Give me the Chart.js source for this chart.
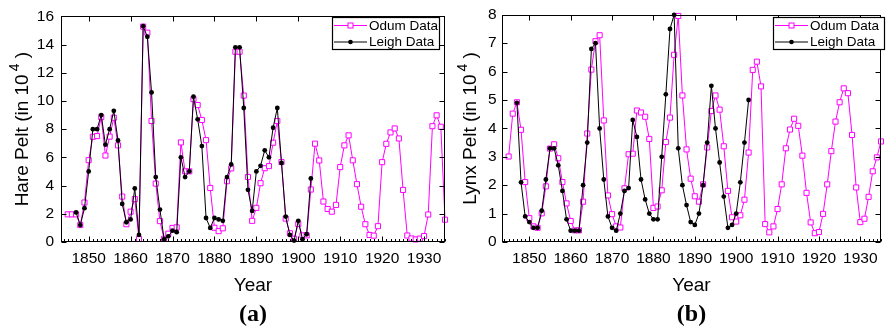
<!DOCTYPE html>
<html>
<head>
<meta charset="utf-8">
<script src="https://cdn.jsdelivr.net/npm/chart.js@4.4.0/dist/chart.umd.min.js"></script>
<style>
  html, body { margin: 0; padding: 0; background: #fff; }
  #wrap { position: relative; width: 886px; height: 332px; }
  canvas { position: absolute; top: 0; }
</style>
</head>
<body>
<div id="wrap">
  <canvas id="hareChart" style="left:0;width:450px;height:332px"></canvas>
  <canvas id="lynxChart" style="left:450px;width:436px;height:332px"></canvas>
</div>
<script>
// Odum data, 1845-1935 (in 10^4 pelts)
const odumYears = [1845, 1846, 1847, 1848, 1849, 1850, 1851, 1852, 1853, 1854,
  1855, 1856, 1857, 1858, 1859, 1860, 1861, 1862, 1863, 1864,
  1865, 1866, 1867, 1868, 1869, 1870, 1871, 1872, 1873, 1874,
  1875, 1876, 1877, 1878, 1879, 1880, 1881, 1882, 1883, 1884,
  1885, 1886, 1887, 1888, 1889, 1890, 1891, 1892, 1893, 1894,
  1895, 1896, 1897, 1898, 1899, 1900, 1901, 1902, 1903, 1904,
  1905, 1906, 1907, 1908, 1909, 1910, 1911, 1912, 1913, 1914,
  1915, 1916, 1917, 1918, 1919, 1920, 1921, 1922, 1923, 1924,
  1925, 1926, 1927, 1928, 1929, 1930, 1931, 1932, 1933, 1934, 1935];
const odumHare = [1.96, 1.96, 1.96, 1.20, 2.80, 5.80, 7.46, 7.51, 8.85, 6.13,
  7.47, 8.81, 6.85, 3.22, 1.26, 2.15, 3.04, 0.22, 15.27, 14.84,
  8.58, 4.14, 1.48, 0.23, 0.59, 1.00, 1.04, 7.06, 5.01, 5.01,
  10.13, 9.71, 8.65, 7.22, 3.83, 1.01, 0.77, 0.97, 4.31, 5.22,
  13.49, 13.49, 10.38, 4.61, 1.50, 2.42, 4.17, 5.23, 5.38, 7.04,
  8.58, 5.67, 1.66, 0.62, 0.23, 1.28, 0.47, 0.47, 3.72, 6.97,
  5.78, 2.87, 2.34, 2.15, 2.63, 5.31, 6.85, 7.56, 5.79, 4.10,
  2.50, 1.26, 0.50, 0.45, 1.12, 5.66, 6.96, 7.77, 8.05, 7.34,
  3.69, 0.46, 0.25, 0.18, 0.24, 0.42, 1.95, 8.21, 8.98, 8.17, 1.58];
const odumLynx = [3.01, 4.52, 4.92, 3.95, 2.11, 0.84, 0.55, 0.50, 1.01, 1.96,
  3.29, 3.44, 2.95, 2.11, 1.36, 0.74, 0.41, 0.41, 1.42, 3.82,
  6.07, 7.07, 7.28, 4.28, 1.64, 0.98, 0.55, 0.51, 1.89, 3.09,
  3.11, 4.63, 4.56, 4.41, 3.63, 1.20, 1.25, 1.82, 3.52, 4.38,
  6.59, 7.96, 5.16, 3.26, 2.23, 1.61, 1.42, 2.03, 3.33, 4.61,
  5.16, 4.66, 3.37, 1.80, 0.87, 0.72, 0.94, 1.49, 3.15, 6.06,
  6.35, 5.48, 0.63, 0.34, 0.55, 1.16, 2.03, 3.30, 3.96, 4.34,
  4.09, 3.04, 1.73, 0.69, 0.31, 0.35, 0.99, 2.03, 3.20, 4.24,
  4.92, 5.41, 5.24, 3.77, 1.92, 0.70, 0.82, 1.59, 2.49, 2.98, 3.54];

// Leigh data, 1847-1903
const leighYears = [1847, 1848, 1849, 1850, 1851, 1852, 1853, 1854, 1855, 1856,
  1857, 1858, 1859, 1860, 1861, 1862, 1863, 1864, 1865, 1866,
  1867, 1868, 1869, 1870, 1871, 1872, 1873, 1874, 1875, 1876,
  1877, 1878, 1879, 1880, 1881, 1882, 1883, 1884, 1885, 1886,
  1887, 1888, 1889, 1890, 1891, 1892, 1893, 1894, 1895, 1896,
  1897, 1898, 1899, 1900, 1901, 1902, 1903];
const leighHare = [2.1, 1.2, 2.4, 5.0, 8.0, 8.0, 9.0, 6.9, 8.0, 9.3,
  7.2, 2.7, 1.4, 1.6, 3.8, 0.5, 15.3, 14.55, 10.6, 4.6,
  2.3, 0.2, 0.4, 0.8, 0.7, 6.0, 4.6, 5.0, 10.3, 8.7,
  6.8, 1.7, 1.0, 1.7, 1.6, 1.5, 4.6, 5.5, 13.8, 13.8,
  9.5, 3.7, 2.2, 5.0, 5.4, 6.5, 6.0, 8.1, 9.5, 5.6,
  1.8, 0.5, 0.1, 1.5, 0.2, 0.55, 4.5];
const leighLynx = [4.9, 2.1, 0.9, 0.7, 0.5, 0.5, 1.1, 2.2, 3.3, 3.3,
  2.7, 1.8, 0.8, 0.4, 0.4, 0.4, 2.0, 3.5, 6.8, 7.0,
  4.0, 2.2, 0.9, 0.5, 0.4, 1.0, 1.8, 1.9, 4.3, 3.7,
  2.2, 1.5, 1.0, 0.8, 0.8, 3.0, 5.2, 7.5, 8.0, 3.3,
  2.0, 1.3, 0.7, 0.6, 1.0, 2.0, 3.5, 5.5, 4.0, 2.8,
  1.6, 0.5, 0.6, 1.0, 2.1, 3.5, 5.0];

const yearTicks = [1850, 1860, 1870, 1880, 1890, 1900, 1910, 1920, 1930];
const hareTicks = [0, 2, 4, 6, 8, 10, 12, 14, 16];
const lynxTicks = [0, 1, 2, 3, 4, 5, 6, 7, 8];

const SANS = "'Liberation Sans', Arial, Helvetica, sans-serif";
const MAGENTA = "#ff00ff";

function pairs(xs, ys) {
  return xs.map((x, i) => ({ x: x, y: ys[i] }));
}

// frame, inward ticks, legend and titles (MATLAB look)
const panelPlugin = {
  id: "panel",
  afterDraw(chart, args, opts) {
    const { ctx, chartArea: a } = chart;
    const x = chart.scales.x, y = chart.scales.y;
    ctx.save();
    ctx.strokeStyle = "#000";
    ctx.lineWidth = 1;
    const line = (x1, y1, x2, y2) => {
      ctx.beginPath(); ctx.moveTo(x1, y1); ctx.lineTo(x2, y2); ctx.stroke();
    };
    const L = Math.round(a.left) + 0.5, R = Math.round(a.right) - 0.5;
    const T = Math.round(a.top) + 0.5, B = Math.round(a.bottom) - 0.5;
    ctx.strokeRect(L, T, R - L, B - T);
    // minor year ticks on bottom
    for (let yr = Math.ceil(x.min); yr <= x.max; yr++) {
      const px = Math.round(x.getPixelForValue(yr)) + 0.5;
      line(px, B, px, B - 2.5);
    }
    x.ticks.forEach((t) => {
      const px = Math.round(x.getPixelForValue(t.value)) + 0.5;
      line(px, B, px, B - 5);
      line(px, T, px, T + 5);
    });
    y.ticks.forEach((t) => {
      const py = Math.round(y.getPixelForValue(t.value)) + 0.5;
      line(L, py, L + 5, py);
      line(R, py, R - 5, py);
    });

    // legend
    const lg = opts.legend;
    ctx.fillStyle = "#fff";
    ctx.fillRect(lg.x, lg.y, lg.w, lg.h);
    ctx.lineWidth = 1.2;
    ctx.strokeRect(lg.x + 0.5, lg.y + 0.5, lg.w - 1, lg.h - 1);
    ctx.font = "13.5px " + SANS;
    ctx.textBaseline = "middle";
    ctx.textAlign = "left";
    chart.data.datasets.forEach((ds) => {
      const row = ds.label === "Odum Data" ? 0 : 1;
      const cy = lg.y + 8.5 + row * 16.5;
      ctx.strokeStyle = ds.borderColor;
      ctx.lineWidth = 1;
      line(lg.x + 2, cy, lg.x + 35, cy);
      const mx = lg.x + 18.5;
      if (ds.pointStyle === "rect") {
        ctx.fillStyle = "#fff";
        ctx.fillRect(mx - 2.5, cy - 2.5, 5, 5);
        ctx.strokeRect(mx - 2.5, cy - 2.5, 5, 5);
      } else {
        ctx.fillStyle = "#000";
        ctx.beginPath(); ctx.arc(mx, cy, 2.3, 0, Math.PI * 2); ctx.fill();
      }
      ctx.fillStyle = "#000";
      ctx.fillText(ds.label, lg.x + 37, cy + 0.5);
    });

    // axis titles
    const cx = (a.left + a.right) / 2;
    ctx.fillStyle = "#000";
    ctx.textAlign = "center";
    ctx.textBaseline = "alphabetic";
    ctx.font = "19px " + SANS;
    ctx.fillText("Year", cx, 291);
    ctx.font = "bold 24px 'Liberation Serif', 'Times New Roman', serif";
    ctx.fillText(opts.panel, cx, 321);

    // y title with superscript
    ctx.save();
    ctx.translate(opts.yTitleX, (a.top + a.bottom) / 2);
    ctx.rotate(-Math.PI / 2);
    ctx.textAlign = "left";
    ctx.font = "19px " + SANS;
    const mainW = ctx.measureText(opts.yTitle).width;
    const tailW = ctx.measureText(" )").width;
    ctx.font = "14px " + SANS;
    const supW = ctx.measureText("4").width;
    const total = mainW + 3 + supW + tailW;
    let px = -total / 2;
    const base = 7;
    ctx.font = "19px " + SANS;
    ctx.fillText(opts.yTitle, px, base);
    px += mainW + 3;
    ctx.font = "14px " + SANS;
    ctx.fillText("4", px, base - 9);
    px += supW;
    ctx.font = "19px " + SANS;
    ctx.fillText(" )", px, base);
    ctx.restore();

    ctx.restore();
  }
};

function makeChart(id, odum, leigh, yTicks, yMax, cfg) {
  return new Chart(document.getElementById(id), {
    type: "line",
    data: {
      datasets: [
        {
          label: "Odum Data",
          data: pairs(odumYears, odum),
          borderColor: MAGENTA,
          borderWidth: 1,
          pointStyle: "rect",
          pointRadius: 3.6,
          pointBorderWidth: 1,
          pointBorderColor: MAGENTA,
          pointBackgroundColor: "#fff",
          tension: 0,
          clip: 6,
          order: 2,
        },
        {
          label: "Leigh Data",
          data: pairs(leighYears, leigh),
          borderColor: "#000",
          borderWidth: 1,
          pointStyle: "circle",
          pointRadius: 2.4,
          pointBorderWidth: 0,
          pointBackgroundColor: "#000",
          tension: 0,
          clip: 6,
          order: 1,
        },
      ],
    },
    options: {
      responsive: false,
      animation: false,
      events: [],
      layout: { padding: { left: 0, top: 13, right: cfg.padRight, bottom: 0 } },
      plugins: {
        legend: { display: false },
        tooltip: { enabled: false },
        panel: cfg.panel,
      },
      scales: {
        x: {
          type: "linear",
          min: 1843.4,
          max: 1935,
          afterBuildTicks: (s) => { s.ticks = yearTicks.map((v) => ({ value: v })); },
          afterFit: (s) => { s.height = 90; },
          grid: { display: false, drawTicks: false },
          border: { display: false },
          ticks: { color: "#000", padding: 7, maxRotation: 0, autoSkip: false,
            font: { family: SANS, size: 15.5 }, callback: (v) => String(v) },
        },
        y: {
          min: 0,
          max: yMax,
          afterBuildTicks: (s) => { s.ticks = yTicks.map((v) => ({ value: v })); },
          afterFit: (s) => { s.width = cfg.yWidth; },
          grid: { display: false, drawTicks: false },
          border: { display: false },
          ticks: { color: "#000", padding: cfg.yPad, autoSkip: false,
            font: { family: SANS, size: 15.5 } },
        },
      },
    },
    plugins: [panelPlugin],
  });
}

function sizeCanvas(id, w, h) {
  const c = document.getElementById(id);
  c.width = w; c.height = h;
}
sizeCanvas("hareChart", 450, 332);
sizeCanvas("lynxChart", 436, 332);

makeChart("hareChart", odumHare, leighHare, hareTicks, 16, {
  padRight: 4, yWidth: 61, yPad: 7,
  panel: { legend: { x: 332, y: 17, w: 108, h: 33 }, panel: "(a)",
    yTitle: "Hare Pelt (in 10", yTitleX: 21 },
});
makeChart("lynxChart", odumLynx, leighLynx, lynxTicks, 8, {
  padRight: 2, yWidth: 52, yPad: 5.5,
  panel: { legend: { x: 323, y: 17, w: 112, h: 33 }, panel: "(b)",
    yTitle: "Lynx Pelt (in 10", yTitleX: 19 },
});
</script>
</body>
</html>
